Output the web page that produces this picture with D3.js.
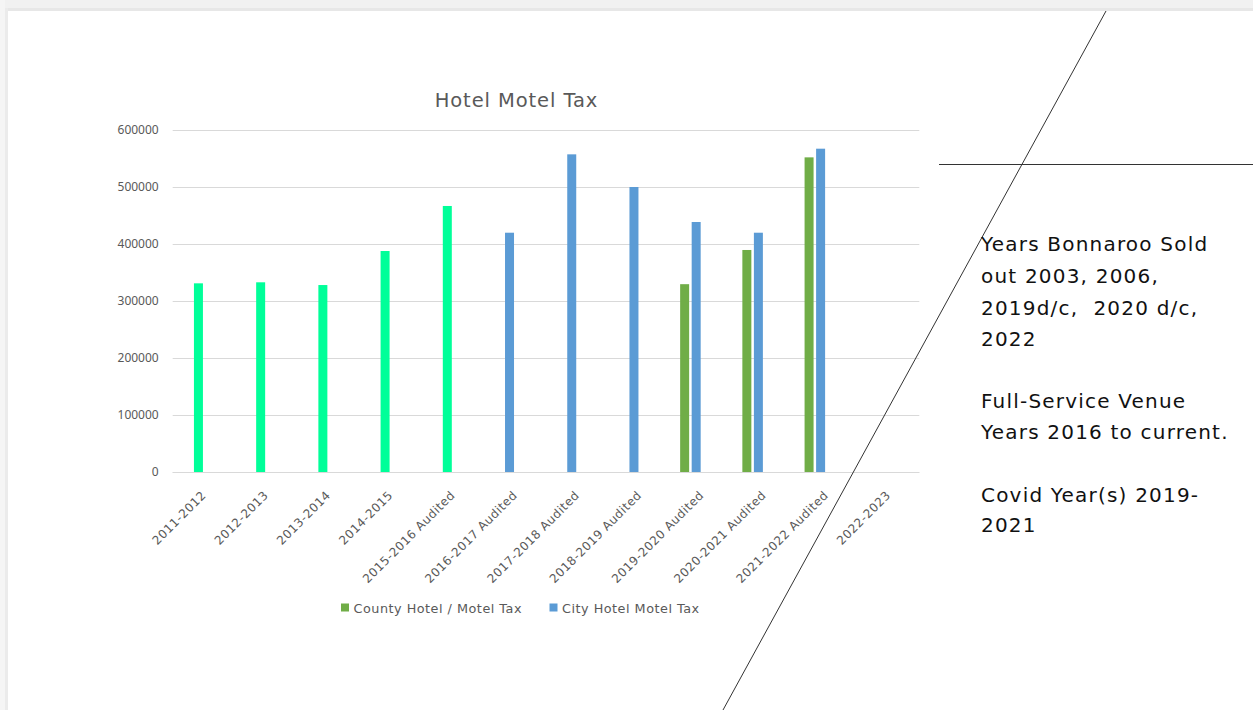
<!DOCTYPE html>
<html>
<head>
<meta charset="utf-8">
<script src="https://cdn.jsdelivr.net/npm/d3@7"></script>
<style>
  html, body { margin: 0; padding: 0; background: #fff; }
  svg { display: block; }
</style>
</head>
<body>
<svg id="chart" width="1253" height="710"></svg>
<script>
// ---- Data ----
const categories = [
  "2011-2012", "2012-2013", "2013-2014", "2014-2015", "2015-2016 Audited",
  "2016-2017 Audited", "2017-2018 Audited", "2018-2019 Audited",
  "2019-2020 Audited", "2020-2021 Audited", "2021-2022 Audited", "2022-2023"
];
const seriesNames = ["County Hotel / Motel Tax", "City Hotel Motel Tax"];
const countyValues = [null, null, null, null, null, null, null, null, 329500, 389500, 552000, null];
const cityValues   = [331000, 332800, 328000, 387700, 466700, 419800, 557300, 500000, 438600, 419800, 567200, null];
// City points from the earlier years are drawn in a highlight colour
const cityHighlight = [true, true, true, true, true, false, false, false, false, false, false, false];
const yTicks = [0, 100000, 200000, 300000, 400000, 500000, 600000];
const chartTitle = "Hotel Motel Tax";
const notes = [
  ["Years Bonnaroo Sold", "out 2003, 2006,", "2019d/c,  2020 d/c,", "2022"],
  ["Full-Service Venue", "Years 2016 to current."],
  ["Covid Year(s) 2019-", "2021"]
];

// ---- Styles ----
const colors = { county: "#70AD47", city: "#5B9BD5", highlight: "#00FF99" };
const font = "'DejaVu Sans', 'Noto Sans', sans-serif";
const numFont = "'Noto Sans', 'DejaVu Sans', sans-serif";
const textGray = "#595959";

const svg = d3.select("#chart");

// Slide frame (gray border at top/left)
svg.append("rect").attr("x", 0).attr("y", 0).attr("width", 1253).attr("height", 710).attr("fill", "#ffffff");
svg.append("rect").attr("x", 0).attr("y", 0).attr("width", 1253).attr("height", 8).attr("fill", "#f1f1f1");
svg.append("rect").attr("x", 0).attr("y", 8).attr("width", 1253).attr("height", 3).attr("fill", "#e7e7e7");
svg.append("rect").attr("x", 0).attr("y", 0).attr("width", 5).attr("height", 710).attr("fill", "#f5f5f5");
svg.append("rect").attr("x", 5).attr("y", 8).attr("width", 3).attr("height", 702).attr("fill", "#ebebeb");

// ---- Scales ----
const plot = { left: 172.7, right: 919.3, top: 130, bottom: 472 };
const x0 = d3.scaleBand().domain(categories).range([plot.left, plot.right]).paddingInner(0).paddingOuter(0);
const bw = x0.bandwidth();
const x1 = d3.scaleBand().domain(seriesNames).range([bw * 0.156, bw * 0.486]).paddingInner(0.22);
const y = d3.scaleLinear().domain([0, 600000]).range([plot.bottom, plot.top]);

// Gridlines
svg.append("g")
  .selectAll("line").data(yTicks).join("line")
  .attr("x1", plot.left).attr("x2", plot.right)
  .attr("y1", d => y(d) + 0.5).attr("y2", d => y(d) + 0.5)
  .attr("stroke", "#d9d9d9").attr("stroke-width", 1);

// Y axis (labels only)
const yAxis = d3.axisLeft(y).tickValues(yTicks).tickSize(0).tickPadding(14).tickFormat(d3.format("d"));
const yg = svg.append("g").attr("transform", `translate(${plot.left},0)`).call(yAxis);
yg.select(".domain").remove();
yg.selectAll("text").attr("font-family", numFont).attr("font-size", 12).attr("fill", textGray);

// Bars
const rows = categories.map((c, i) => ({ cat: c, i }));
const barG = svg.append("g");
rows.forEach(r => {
  const g = barG.append("g").attr("transform", `translate(${x0(r.cat)},0)`);
  const pts = [
    { key: seriesNames[0], v: countyValues[r.i], color: colors.county },
    { key: seriesNames[1], v: cityValues[r.i], color: cityHighlight[r.i] ? colors.highlight : colors.city }
  ].filter(p => p.v != null);
  g.selectAll("rect").data(pts).join("rect")
    .attr("x", p => x1(p.key))
    .attr("width", x1.bandwidth())
    .attr("y", p => y(p.v))
    .attr("height", p => y(0) - y(p.v))
    .attr("fill", p => p.color);
});

// X axis
const xAxis = d3.axisBottom(x0).tickSize(0).tickPadding(0);
const xg = svg.append("g").attr("transform", `translate(0,${plot.bottom})`).call(xAxis);
xg.select(".domain").attr("stroke", "#d9d9d9").attr("d", `M${plot.left},0.5H${plot.right}`);
xg.selectAll("text")
  .attr("font-family", font).attr("font-size", 12).attr("fill", textGray)
  .attr("letter-spacing", 0.5)
  .attr("text-anchor", "end")
  .attr("dy", 0)
  .attr("transform", "translate(3,24) rotate(-45)");

// Title
svg.append("text")
  .attr("x", 516.5).attr("y", 106.5)
  .attr("text-anchor", "middle")
  .attr("font-family", font).attr("font-size", 19.5).attr("fill", textGray)
  .attr("letter-spacing", 0.9)
  .text(chartTitle);

// Legend
const legendItems = [
  { name: seriesNames[0], color: colors.county, x: 341 },
  { name: seriesNames[1], color: colors.city, x: 549.5 }
];
const lg = svg.append("g");
legendItems.forEach(it => {
  lg.append("rect").attr("x", it.x).attr("y", 603.5).attr("width", 8).attr("height", 8).attr("fill", it.color);
  lg.append("text").attr("x", it.x + 12.5).attr("y", 612.5)
    .attr("font-family", font).attr("font-size", 12.8).attr("fill", textGray)
    .attr("letter-spacing", 0.5)
    .text(it.name);
});

// Decorative lines
svg.append("line").attr("x1", 1106).attr("y1", 11).attr("x2", 723).attr("y2", 710)
  .attr("stroke", "#333").attr("stroke-width", 1);
svg.append("line").attr("x1", 939).attr("y1", 164.5).attr("x2", 1253).attr("y2", 164.5)
  .attr("stroke", "#333").attr("stroke-width", 1);

// Notes text
const noteBaselines = [[251, 283, 315, 346], [408, 439], [502, 532]];
notes.forEach((para, pi) => {
  para.forEach((line, li) => {
    svg.append("text").attr("x", 981).attr("y", noteBaselines[pi][li])
      .attr("font-family", font).attr("font-size", 20).attr("fill", "#111")
      .attr("letter-spacing", 1.2)
      .attr("xml:space", "preserve").style("white-space", "pre")
      .text(line);
  });
});
</script>
</body>
</html>
